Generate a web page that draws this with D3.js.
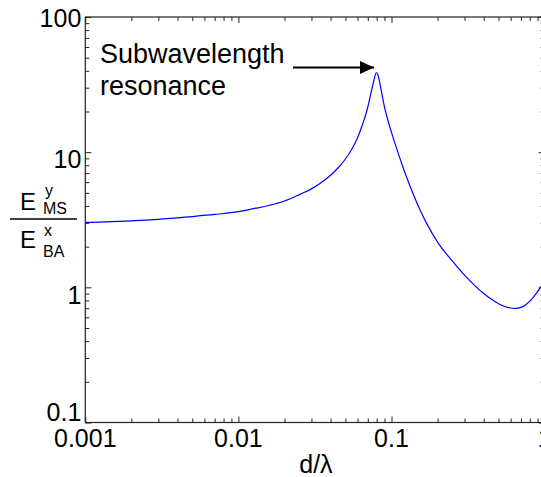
<!DOCTYPE html>
<meta charset="utf-8">
<script src="https://d3js.org/d3.v7.min.js"></script>
<style>
  body { margin: 0; background: #fff; }
  text { font-family: "Liberation Sans", Arial, sans-serif; fill: #000; }
</style>
<svg id="chart" width="541" height="477"></svg>
<script>
    // curve: d/lambda vs field ratio
    const dRatio = [0.001, 0.0015, 0.002, 0.003, 0.004, 0.005, 0.007, 0.01, 0.013, 0.016,
      0.02, 0.025, 0.03, 0.035, 0.04, 0.045, 0.05, 0.055, 0.06, 0.065, 0.07, 0.074, 0.077,
      0.0795, 0.081, 0.083, 0.086, 0.09, 0.095, 0.1, 0.11, 0.12, 0.135, 0.15, 0.17, 0.2,
      0.25, 0.3, 0.35, 0.4, 0.45, 0.5, 0.55, 0.6, 0.65, 0.7, 0.75, 0.8, 0.85, 0.9, 0.95, 1.0];
    const fieldRatio = [3.02, 3.06, 3.10, 3.18, 3.27, 3.34, 3.46, 3.63, 3.85, 4.05,
      4.35, 4.85, 5.35, 6.0, 6.75, 7.7, 8.9, 10.5, 12.8, 16.3, 21.5, 28.5, 34.5,
      38.7, 38.0, 34.5, 28.0, 21.5, 17.0, 14.0, 10.0, 7.5, 5.27, 3.97, 2.96, 2.16,
      1.56, 1.23, 1.03, 0.90, 0.815, 0.757, 0.722, 0.703, 0.698, 0.711, 0.741, 0.79, 0.855, 0.93, 1.015, 1.107];

    const xMajor = [0.001, 0.01, 0.1, 1];
    const xTickLabels = ["0.001", "0.01", "0.1", "1"];
    const yMajor = [0.1, 1, 10, 100];
    const yTickLabels = ["0.1", "1", "10", "100"];

    const svg = d3.select("#chart");

    // plot box (right edge falls just outside the picture)
    const x = d3.scaleLog().domain([0.001, 1]).range([85.3, 544.6]);
    const y = d3.scaleLog().domain([0.1, 100]).range([422.5, 17]);

    const xMinor = x.ticks().filter(v => !xMajor.some(m => Math.abs(m - v) < 1e-12));
    const yMinor = y.ticks().filter(v => !yMajor.some(m => Math.abs(m - v) < 1e-12));

    svg.append("defs").append("clipPath").attr("id", "plotclip")
      .append("rect")
        .attr("x", x(0.001)).attr("y", y(100))
        .attr("width", x(1) - x(0.001)).attr("height", y(0.1) - y(100));

    // the line
    const line = d3.line()
      .x((d, i) => x(dRatio[i]))
      .y(d => y(d))
      .curve(d3.curveMonotoneX);

    svg.append("path")
      .datum(fieldRatio)
      .attr("clip-path", "url(#plotclip)")
      .attr("d", line)
      .attr("fill", "none")
      .attr("stroke", "#0000ff")
      .attr("stroke-width", 1.2);

    // ticks on all four sides, pointing inward
    const axes = [
      [d3.axisTop(x), `translate(0,${y(0.1)})`, xMajor, xMinor],
      [d3.axisBottom(x), `translate(0,${y(100)})`, xMajor, xMinor],
      [d3.axisRight(y), `translate(${x(0.001)},0)`, yMajor, yMinor],
      [d3.axisLeft(y), `translate(${x(1)},0)`, yMajor, yMinor]
    ];
    axes.forEach(a => {
      [[a[2], 6], [a[3], 4]].forEach(t => {
        const g = svg.append("g").attr("transform", a[1])
          .call(a[0].tickValues(t[0]).tickSize(t[1]).tickFormat(""));
        g.select(".domain").remove();
        g.selectAll("line").attr("stroke", "#222");
      });
    });

    svg.append("rect")
      .attr("x", x(0.001)).attr("y", y(100))
      .attr("width", x(1) - x(0.001)).attr("height", y(0.1) - y(100))
      .attr("fill", "none").attr("stroke", "#222").attr("stroke-width", 1.2);

    // tick labels
    svg.selectAll(".xlab")
      .data(xMajor)
      .enter()
      .append("text")
        .attr("x", d => x(d))
        .attr("y", y(0.1) + 24)
        .attr("text-anchor", "middle")
        .style("font-size", "25px")
        .text((d, i) => xTickLabels[i]);

    const yShift = { 100: 10, 10: 16, 1: 17, 0.1: -2 };
    svg.selectAll(".ylab")
      .data(yMajor)
      .enter()
      .append("text")
        .attr("x", x(0.001) - 4)
        .attr("y", d => y(d) + yShift[d])
        .attr("text-anchor", "end")
        .style("font-size", "25px")
        .text((d, i) => yTickLabels[i]);

    // axis titles
    svg.append("text")
      .attr("x", x(Math.sqrt(0.01 * 0.1)) + 1)
      .attr("y", 473)
      .attr("text-anchor", "middle")
      .style("font-size", "25px")
      .text("d/λ");

    const yl = svg.append("g");
    yl.append("line")
      .attr("x1", 10).attr("x2", 77).attr("y1", 219).attr("y2", 219)
      .attr("stroke", "#000").attr("stroke-width", 1.3);
    yl.append("text").attr("x", 20).attr("y", 210).style("font-size", "24px").text("E");
    yl.append("text").attr("x", 45).attr("y", 196).style("font-size", "16px").text("y");
    yl.append("text").attr("x", 43).attr("y", 214).style("font-size", "16px").text("MS");
    yl.append("text").attr("x", 20).attr("y", 248).style("font-size", "24px").text("E");
    yl.append("text").attr("x", 44).attr("y", 236).style("font-size", "16px").text("x");
    yl.append("text").attr("x", 43).attr("y", 257).style("font-size", "16px").text("BA");

    // annotation
    svg.append("text")
      .attr("x", 100).attr("y", 63)
      .style("font-size", "27px")
      .text("Subwavelength");
    svg.append("text")
      .attr("x", 100).attr("y", 95)
      .style("font-size", "27px")
      .text("resonance");

    svg.append("defs").append("marker")
      .attr("id", "head")
      .attr("viewBox", "0 0 14 13")
      .attr("refX", 14).attr("refY", 6.5)
      .attr("markerWidth", 14).attr("markerHeight", 13)
      .attr("markerUnits", "userSpaceOnUse")
      .attr("orient", "auto")
      .append("path").attr("d", "M0,0L14,6.5L0,13Z").attr("fill", "#000");

    svg.append("line")
      .attr("x1", 293).attr("y1", 67.5)
      .attr("x2", 374).attr("y2", 67.5)
      .attr("stroke", "#000").attr("stroke-width", 2)
      .attr("marker-end", "url(#head)");
</script>
